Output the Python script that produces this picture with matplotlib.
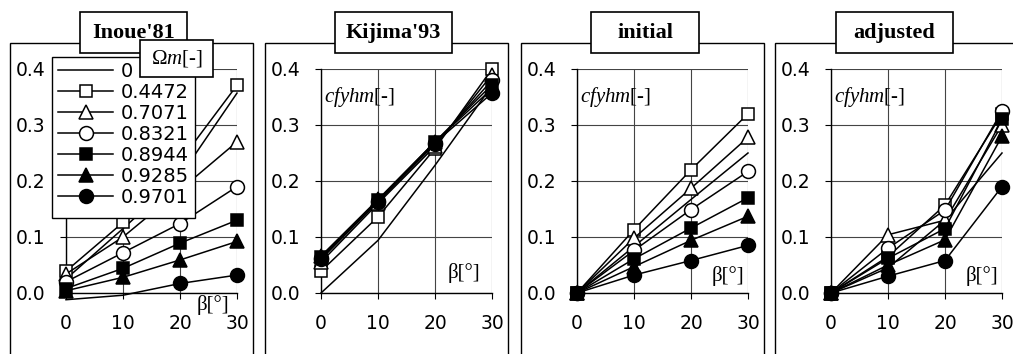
import matplotlib.pyplot as plt
from matplotlib.patches import Rectangle
from matplotlib.lines import Line2D

plt.rcParams['mathtext.fontset'] = 'custom'
plt.rcParams['mathtext.rm'] = 'Liberation Serif'
plt.rcParams['mathtext.it'] = 'Liberation Serif:italic'

beta = [0, 10, 20, 30]
omega_m = ['0', '0.4472', '0.7071', '0.8321', '0.8944', '0.9285', '0.9701']
titles = ["Inoue'81", "Kijima'93", "initial", "adjusted"]

# cfyhm values, one row per Omega_m
inoue = [
    [0.025, 0.115, 0.208, 0.357],
    [0.039, 0.126, 0.235, 0.371],
    [0.034, 0.100, 0.184, 0.270],
    [0.020, 0.072, 0.124, 0.190],
    [0.008, 0.044, 0.089, 0.130],
    [0.004, 0.028, 0.059, 0.092],
    [-0.012, -0.004, 0.017, 0.032],
]
kijima = [
    [0.000, 0.094, 0.228, 0.370],
    [0.039, 0.136, 0.258, 0.400],
    [0.055, 0.160, 0.262, 0.390],
    [0.060, 0.163, 0.266, 0.380],
    [0.065, 0.166, 0.270, 0.372],
    [0.066, 0.167, 0.270, 0.365],
    [0.062, 0.164, 0.268, 0.357],
]
initial = [
    [0.0, 0.083, 0.167, 0.250],
    [0.0, 0.113, 0.220, 0.320],
    [0.0, 0.098, 0.187, 0.278],
    [0.0, 0.076, 0.149, 0.217],
    [0.0, 0.061, 0.116, 0.170],
    [0.0, 0.047, 0.094, 0.137],
    [0.0, 0.032, 0.058, 0.085],
]
adjusted = [
    [0.0, 0.045, 0.130, 0.250],
    [0.0, 0.065, 0.157, 0.320],
    [0.0, 0.104, 0.130, 0.300],
    [0.0, 0.080, 0.148, 0.325],
    [0.0, 0.062, 0.115, 0.310],
    [0.0, 0.050, 0.095, 0.280],
    [0.0, 0.030, 0.058, 0.190],
]
panels = [inoue, kijima, initial, adjusted]

markers = [None, 's', '^', 'o', 's', '^', 'o']
faces = ['none', 'white', 'white', 'white', 'black', 'black', 'black']
msizes = [0, 9, 10, 10, 9, 10, 10]

W, H = 1013, 354
fig = plt.figure(figsize=(W / 100, H / 100), dpi=100)

frame_left = [10, 265, 521, 775]
axis_left = [66, 321, 577, 831]
title_cx = [133.5, 393.5, 645, 894.5]
title_w = [107, 117, 108, 117]
beta_pos = [(28.7, -0.021), (27.9, 0.036), (29.4, 0.03), (29.4, 0.03)]

for k, data in enumerate(panels):
    # outer frame of each panel (open at the bottom of the picture)
    fig.add_artist(Rectangle((frame_left[k] / W, -0.1), 243 / W, (1 - 43 / H) + 0.1,
                             transform=fig.transFigure, fill=False, ec='black',
                             lw=1.0, zorder=1))
    # title box
    x0 = title_cx[k] - title_w[k] / 2
    fig.add_artist(Rectangle((x0 / W, 1 - 53 / H), title_w[k] / W, 41 / H,
                             transform=fig.transFigure, fc='white', ec='black',
                             lw=1.2, zorder=2))
    fig.text(title_cx[k] / W, 1 - 33 / H, titles[k], ha='center', va='center',
             fontsize=16, fontweight='bold', family='Liberation Serif', zorder=3)

    ax = fig.add_axes([axis_left[k] / W, 1 - 293 / H, 171 / W, 224 / H])
    ax.set_facecolor('none')
    for i, vals in enumerate(data):
        shown = [j for j, v in enumerate(vals) if v >= 0]
        ax.plot(beta, vals, color='black', lw=1.1, marker=markers[i], ms=msizes[i],
                mfc=faces[i], mec='black', mew=1.1, markevery=shown,
                clip_on=False, zorder=3)
    ax.set_xlim(0, 30)
    ax.set_ylim(0, 0.4)
    ax.set_xticks(beta)
    ax.set_yticks([0, 0.1, 0.2, 0.3, 0.4])
    ax.set_yticklabels(['0.0', '0.1', '0.2', '0.3', '0.4'])
    ax.grid(True, color='#444444', lw=0.8)
    for s in ['top', 'right']:
        ax.spines[s].set_visible(False)
    for s in ['left', 'bottom']:
        ax.spines[s].set_linewidth(1.0)
    ax.tick_params(direction='out', length=4.3, width=0.8, labelsize=13.5)
    ax.tick_params(axis='x', pad=11)
    ax.tick_params(axis='y', pad=10.5)

    bx, by = beta_pos[k]
    ax.text(bx, by, 'β[°]', ha='right', va='center', family='Liberation Serif',
            fontsize=15, clip_on=False)
    if k > 0:
        ax.text(0.5, 0.35, r'$cfyhm$[-]', va='center', family='Liberation Serif',
                fontsize=15)
    else:
        handles = [Line2D([], [], color='black', lw=1.1, marker=markers[i], ms=msizes[i],
                          mfc=faces[i], mec='black', mew=1.1) for i in range(7)]
        ax.add_patch(Rectangle((52 / W, 1 - 218 / H), 143 / W, 161 / H,
                               transform=fig.transFigure, fc='white', ec='black',
                               lw=1.0, zorder=4.5, clip_on=False))
        leg = ax.legend(handles, omega_m, loc='upper left',
                        bbox_to_anchor=(52 / W, 1 - 56 / H), bbox_transform=fig.transFigure,
                        frameon=False, fontsize=14, handlelength=2.85, handletextpad=0.35,
                        labelspacing=0.1, borderpad=0.31, borderaxespad=0)
        leg.set_zorder(5)
        # legend heading box
        fig.add_artist(Rectangle((140 / W, 1 - 77 / H), 73 / W, 37 / H,
                                 transform=fig.transFigure, fc='white', ec='black',
                                 lw=1.2, zorder=4))
        fig.text(176.5 / W, 1 - 58.5 / H, r'$\Omega m$[-]', ha='center', va='center',
                 family='Liberation Serif', fontsize=15, zorder=5)

fig.savefig('out.png', dpi=100)
